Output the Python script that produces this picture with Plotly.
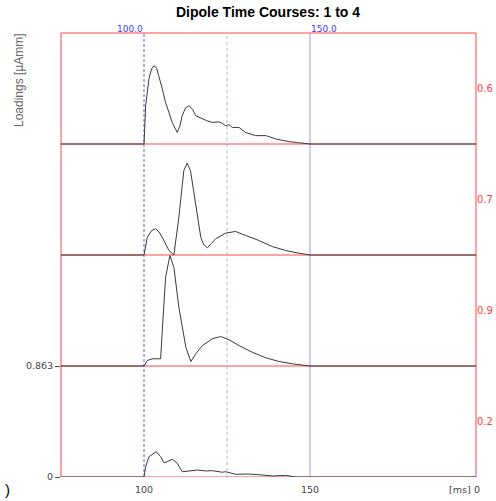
import plotly.graph_objects as go

# ---- data ----
PANEL_SPAN = 0.863          # value spacing between stacked dipole baselines
X_RANGE = [75, 200]

t1 = [100.0, 100.5, 101.5, 102.3, 103.0, 103.8, 104.5, 105.5, 106.5, 107.5, 108.5, 110.0,
      110.8, 111.5, 112.5, 113.6, 114.6, 115.6, 117.6, 119.0, 120.6, 122.6, 123.6, 124.6,
      125.6, 126.6, 128.6, 130.6, 133.6, 136.7, 139.7, 143.7, 146.5, 149.7, 150.0]
v1 = [0.0, 0.298, 0.508, 0.585, 0.609, 0.590, 0.531, 0.430, 0.323, 0.240, 0.168, 0.090,
      0.140, 0.220, 0.280, 0.298, 0.270, 0.220, 0.197, 0.180, 0.168, 0.172, 0.160, 0.142,
      0.150, 0.129, 0.129, 0.090, 0.065, 0.065, 0.039, 0.018, 0.010, 0.005, 0.0]

t2 = [100.0, 101.0, 102.3, 103.5, 104.5, 105.5, 107.5, 109.0, 110.5, 112.0, 113.0, 114.0,
      115.6, 117.1, 118.0, 119.1, 120.3, 121.6, 124.6, 127.6, 130.6, 134.6, 138.6, 142.7,
      146.7, 149.7, 150.0]
v2 = [0.0, 0.138, 0.190, 0.204, 0.180, 0.138, 0.035, 0.0, 0.294, 0.657, 0.714, 0.657,
      0.400, 0.138, 0.080, 0.056, 0.090, 0.126, 0.170, 0.183, 0.152, 0.113, 0.066, 0.035,
      0.014, 0.002, 0.0]

t3 = [100.0, 101.0, 102.5, 105.0, 105.7, 106.5, 107.8, 109.0, 110.5, 112.6, 114.1, 115.6,
      117.6, 120.6, 123.1, 125.6, 128.6, 132.6, 136.7, 140.7, 144.7, 149.7, 150.0]
v3 = [0.0, 0.043, 0.056, 0.056, 0.379, 0.690, 0.859, 0.768, 0.457, 0.146, 0.035, 0.095,
      0.159, 0.212, 0.229, 0.204, 0.159, 0.107, 0.064, 0.035, 0.017, 0.004, 0.0]

t4 = [100.0, 100.5, 101.5, 103.7, 105.0, 106.0, 107.0, 108.5, 110.0, 111.5, 113.6, 116.1,
      118.6, 120.6, 123.6, 124.6, 127.6, 131.6, 134.6, 138.6, 142.7, 145.7, 149.7, 150.0]
v4 = [0.0, 0.080, 0.158, 0.197, 0.158, 0.111, 0.119, 0.138, 0.107, 0.041, 0.047, 0.054,
      0.047, 0.049, 0.037, 0.041, 0.021, 0.023, 0.018, 0.008, 0.013, 0.0, 0.0, 0.0]

scale_labels = ["0.6", "0.7", "0.9", "0.2"]
top_ticks = [100, 150]
top_tick_text = ["100.0", "150.0"]
top_tick_anchor = ["right", "left"]
bottom_tick_text = ["100", "150"]
left_tick_vals = [0, PANEL_SPAN]
left_tick_text = ["0", "0.863"]

series = [(t1, v1), (t2, v2), (t3, v3), (t4, v4)]
n = len(series)

FONT = "Liberation Sans, Arial, sans-serif"
TFONT = "DejaVu Sans, sans-serif"
RED = "rgb(255,70,70)"

L, R, T, B = 61, 20, 33, 24
W, H = 496, 501
PW, PH = W - L - R, H - T - B


def px(xp):
    return (xp - L) / PW


def py(yp):
    return (H - B - yp) / PH


fig = go.Figure()

# red baselines for each panel
for i in range(n):
    off = (n - 1 - i) * PANEL_SPAN
    fig.add_shape(type="line", xref="x", yref="y", x0=X_RANGE[0], x1=X_RANGE[1], y0=off, y1=off,
                  line=dict(color=RED, width=1), layer="below")

# vertical marker lines
fig.add_shape(type="line", xref="x", yref="paper", x0=100, x1=100, y0=0, y1=1,
              line=dict(color="rgb(90,90,255)", width=1, dash="3px,2px"), layer="below")
fig.add_shape(type="line", xref="x", yref="paper", x0=125, x1=125, y0=0, y1=1,
              line=dict(color="rgb(175,175,255)", width=1, dash="dot"), layer="below")
fig.add_shape(type="line", xref="x", yref="paper", x0=150, x1=150, y0=0, y1=1,
              line=dict(color="rgb(185,185,255)", width=1.5), layer="below")

# frame (left, top, right)
for (x0, y0, x1, y1) in [(0, 0, 0, 1), (0, 1, 1, 1), (1, 0, 1, 1)]:
    fig.add_shape(type="line", xref="paper", yref="paper", x0=x0, x1=x1, y0=y0, y1=y1,
                  line=dict(color=RED, width=1), layer="below")

# curves
for i, (t, v) in enumerate(series):
    off = (n - 1 - i) * PANEL_SPAN
    xs = [X_RANGE[0]] + t + [X_RANGE[1]]
    ys = [off] + [val + off for val in v] + [off]
    fig.add_trace(go.Scatter(x=xs, y=ys, mode="lines",
                             line=dict(color="#3a3a3a", width=1),
                             showlegend=False, hoverinfo="skip"))
    # right-side scale label in middle of panel
    fig.add_annotation(x=1.0, xref="paper", y=off + PANEL_SPAN / 2, yref="y",
                       text=scale_labels[i], showarrow=False, xanchor="left", yanchor="middle",
                       xshift=-1, font=dict(family=TFONT, size=10, color="rgb(255,60,60)"))

# top blue labels
for xv, txt, anc in zip(top_ticks, top_tick_text, top_tick_anchor):
    fig.add_annotation(x=xv, xref="x", y=1.0, yref="paper", text=txt, showarrow=False,
                       xanchor=anc, yanchor="bottom", yshift=-3,
                       xshift=(1 if anc == "right" else -1),
                       font=dict(family=TFONT, size=9, color="rgb(60,60,255)"))

# axis unit label
fig.add_annotation(x=1.0, xref="paper", y=0, yref="paper", text="[ms]", showarrow=False,
                   xanchor="right", yanchor="top", xshift=-3, yshift=-5,
                   font=dict(family=TFONT, size=9.5, color="#444"))
fig.add_annotation(x=1.0, xref="paper", y=0, yref="paper", text="0", showarrow=False,
                   xanchor="left", yanchor="top", xshift=-4, yshift=-5,
                   font=dict(family=TFONT, size=9.5, color="#444"))

# y title
fig.add_annotation(x=px(19), xref="paper", y=py(80), yref="paper", text="Loadings [µAmm]",
                   showarrow=False, textangle=-90, xanchor="center", yanchor="middle",
                   font=dict(family=FONT, size=12, color="#666"))

# stray glyph at bottom-left
fig.add_annotation(x=px(7), xref="paper", y=py(500), yref="paper", xanchor="center",
                   yanchor="bottom", text=")", showarrow=False,
                   font=dict(family=FONT, size=15, color="#000"))

fig.update_layout(
    width=W, height=H,
    margin=dict(l=L, r=R, t=T, b=B, autoexpand=False),
    paper_bgcolor="white", plot_bgcolor="white",
    title=dict(text="<b>Dipole Time Courses: 1 to 4</b>", x=268 / W, xanchor="center",
               y=1 - 12 / H, yanchor="middle",
               font=dict(family=FONT, size=14, color="#000")),
    xaxis=dict(range=X_RANGE, showgrid=False, zeroline=False, showline=False, automargin=False,
               tickvals=top_ticks, ticktext=bottom_tick_text, ticks="outside", ticklen=4,
               tickcolor="rgba(0,0,0,0)", tickfont=dict(family=TFONT, size=9.5, color="#444")),
    yaxis=dict(range=[0, n * PANEL_SPAN], showgrid=False, zeroline=False, showline=False,
               automargin=False,
               tickvals=left_tick_vals, ticktext=left_tick_text, ticks="outside", ticklen=5,
               tickcolor="#555", tickfont=dict(family=TFONT, size=9.5, color="#444")),
)

fig.write_html("out.html", config={"displayModeBar": False},
               post_script="document.body.style.margin='0';document.body.style.overflow='hidden';")
